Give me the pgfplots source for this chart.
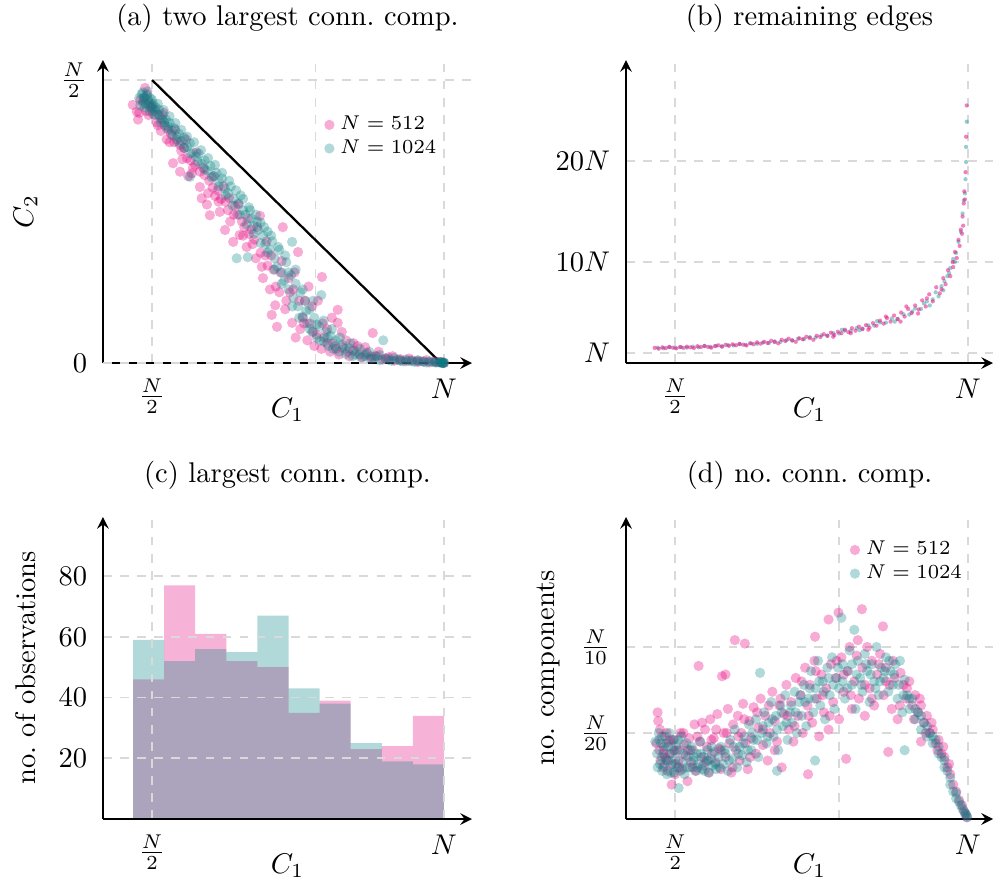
\documentclass[border=0pt]{standalone}
\usepackage{pgfplots}
\pgfplotsset{compat=1.18}
\definecolor{pinkc}{RGB}{230,0,126}
\definecolor{tealc}{RGB}{0,128,128}
\pgfplotsset{
  panel/.style={
    scale only axis,
    anchor=south west,
    axis lines=left,
    axis line style={thick},
    tick align=outside,
    major tick length=2pt,
    tick style={draw=none},
    grid=major,
    major grid style={dashed, black!15, semithick},
    xmin=0.416,
    xlabel={$C_1$},
    xlabel style={at={(axis description cs:0.5,0)}, anchor=north, yshift=-8.6pt},
    ylabel style={at={(axis description cs:-0.21,0.5)}, anchor=center},
    legend style={draw=none, fill=none, font=\scriptsize, anchor=north west, row sep=-2pt},
    legend cell align=left,
    legend image code/.code={\draw[#1] plot coordinates {(0cm,0cm)};},
  },
  pinkpts/.style={only marks, mark=*, mark size=1.8pt, color=pinkc,
    mark options={draw opacity=0, fill=pinkc, fill opacity=0.33}},
  tealpts/.style={only marks, mark=*, mark size=1.8pt, color=tealc,
    mark options={draw opacity=0, fill=tealc, fill opacity=0.3}},
  pinksmall/.style={only marks, mark=*, mark size=0.75pt, color=pinkc,
    mark options={draw opacity=0, fill=pinkc, fill opacity=0.5}},
  tealsmall/.style={only marks, mark=*, mark size=0.75pt, color=tealc,
    mark options={draw opacity=0, fill=tealc, fill opacity=0.4}},
}

\begin{document}
\begin{tikzpicture}
\useasboundingbox (0pt,0pt) rectangle (349.15pt,-308.44pt);

% (a) two largest components
\begin{axis}[panel,
  at={(36.14pt,-127.38pt)}, width=129.48pt, height=106.32pt,
  xmax=1.048, ymin=0, ymax=0.5353, clip=false,
  xtick={0.5,0.78,1}, xticklabels={$\frac{N}{2}$,,$N$},
  ytick={0,0.5}, yticklabels={$0$,$\frac{N}{2}$},
  ylabel={$C_2$},
  title={(a) two largest conn.\ comp.},
  legend style={at={(axis description cs:0.575,0.855)}},
]
\addplot[pinkpts] coordinates {
(0.467,0.456)(0.474,0.444)(0.476,0.430)(0.480,0.465)(0.484,0.458)(0.488,0.486)(0.490,0.445)(0.492,0.475)(0.495,0.460)(0.498,0.452)
(0.502,0.440)(0.505,0.448)(0.508,0.425)(0.512,0.438)(0.515,0.410)(0.518,0.430)(0.522,0.420)(0.525,0.395)(0.528,0.412)(0.532,0.405)
(0.536,0.353)(0.538,0.390)(0.542,0.395)(0.548,0.338)(0.548,0.385)(0.552,0.360)(0.555,0.380)(0.560,0.362)(0.562,0.330)(0.566,0.358)
(0.570,0.345)(0.574,0.350)(0.582,0.311)(0.582,0.338)(0.585,0.291)(0.590,0.332)(0.594,0.280)(0.598,0.322)(0.599,0.261)(0.604,0.310)
(0.608,0.295)(0.612,0.305)(0.616,0.267)(0.618,0.290)(0.625,0.235)(0.626,0.285)(0.630,0.270)(0.634,0.250)(0.639,0.214)(0.642,0.278)
(0.646,0.262)(0.650,0.226)(0.654,0.250)(0.658,0.240)(0.662,0.205)(0.666,0.228)(0.670,0.236)(0.675,0.218)(0.678,0.185)(0.685,0.260)
(0.686,0.195)(0.690,0.150)(0.694,0.190)(0.698,0.172)(0.702,0.130)(0.705,0.085)(0.708,0.165)(0.711,0.102)(0.714,0.064)(0.718,0.125)
(0.722,0.180)(0.724,0.240)(0.730,0.110)(0.734,0.150)(0.740,0.071)(0.742,0.130)(0.746,0.045)(0.750,0.196)(0.754,0.060)(0.758,0.080)
(0.762,0.110)(0.766,0.040)(0.770,0.070)(0.774,0.100)(0.778,0.030)(0.782,0.050)(0.791,0.152)(0.790,0.025)(0.795,0.045)(0.800,0.060)
(0.805,0.020)(0.810,0.035)(0.818,0.094)(0.818,0.071)(0.820,0.015)(0.826,0.028)(0.832,0.040)(0.838,0.012)(0.845,0.022)(0.852,0.030)
(0.860,0.010)(0.868,0.018)(0.876,0.008)(0.878,0.053)(0.885,0.012)(0.895,0.006)(0.905,0.010)(0.915,0.004)(0.925,0.007)(0.935,0.003)
(0.945,0.005)(0.955,0.002)(0.965,0.003)(0.975,0.001)(0.985,0.002)(0.992,0.001)(0.998,0.000)(1.000,0.000)
(0.478,0.442)(0.486,0.468)(0.494,0.438)(0.500,0.455)(0.510,0.420)(0.520,0.442)(0.530,0.390)(0.540,0.412)(0.550,0.375)(0.558,0.395)
(0.568,0.335)(0.576,0.372)(0.588,0.345)(0.596,0.300)(0.606,0.330)(0.614,0.285)(0.622,0.312)(0.632,0.292)(0.640,0.262)(0.648,0.280)
(0.656,0.225)(0.664,0.255)(0.672,0.210)(0.680,0.240)(0.688,0.170)(0.696,0.215)(0.704,0.190)(0.712,0.135)(0.720,0.160)(0.728,0.095)
(0.736,0.125)(0.744,0.160)(0.752,0.110)(0.760,0.070)(0.768,0.135)(0.776,0.055)(0.784,0.110)(0.792,0.070)(0.800,0.035)(0.808,0.080)
(0.815,0.025)(0.825,0.055)(0.835,0.020)(0.845,0.035)(0.855,0.015)(0.865,0.028)(0.875,0.012)(0.888,0.020)(0.900,0.008)(0.912,0.012)
(0.925,0.005)(0.940,0.008)(0.955,0.004)(0.970,0.005)(0.985,0.003)(0.995,0.002)
};
\addlegendentry{$N=512$}
\addplot[tealpts] coordinates {
(0.478,0.468)(0.482,0.475)(0.485,0.462)(0.487,0.470)(0.489,0.458)(0.491,0.472)(0.493,0.465)(0.495,0.455)(0.497,0.468)(0.499,0.450)
(0.502,0.458)(0.504,0.445)(0.506,0.452)(0.509,0.440)(0.512,0.448)(0.515,0.432)(0.518,0.438)(0.521,0.425)(0.524,0.430)(0.527,0.418)
(0.530,0.424)(0.534,0.410)(0.538,0.415)(0.542,0.400)(0.546,0.405)(0.550,0.392)(0.555,0.398)(0.560,0.382)(0.565,0.329)(0.565,0.388)
(0.570,0.372)(0.575,0.365)(0.580,0.370)(0.585,0.352)(0.590,0.358)(0.595,0.340)(0.600,0.348)(0.605,0.330)(0.610,0.336)(0.615,0.320)
(0.620,0.326)(0.625,0.308)(0.630,0.300)(0.635,0.312)(0.640,0.290)(0.645,0.185)(0.648,0.282)(0.652,0.296)(0.656,0.270)(0.660,0.262)
(0.664,0.187)(0.666,0.275)(0.670,0.255)(0.674,0.242)(0.678,0.262)(0.682,0.235)(0.686,0.248)(0.690,0.225)(0.694,0.210)(0.698,0.232)
(0.702,0.200)(0.706,0.215)(0.710,0.185)(0.714,0.170)(0.718,0.200)(0.722,0.160)(0.726,0.145)(0.730,0.178)(0.734,0.130)(0.738,0.155)
(0.740,0.214)(0.742,0.115)(0.746,0.140)(0.750,0.100)(0.754,0.125)(0.758,0.082)(0.762,0.110)(0.766,0.070)(0.770,0.095)(0.774,0.055)
(0.778,0.080)(0.782,0.045)(0.786,0.065)(0.790,0.120)(0.794,0.038)(0.798,0.055)(0.802,0.030)(0.806,0.048)(0.810,0.025)(0.815,0.040)
(0.820,0.020)(0.826,0.032)(0.832,0.016)(0.838,0.026)(0.844,0.012)(0.850,0.020)(0.858,0.010)(0.866,0.015)(0.874,0.007)(0.882,0.012)
(0.890,0.005)(0.896,0.040)(0.900,0.008)(0.910,0.004)(0.920,0.006)(0.930,0.003)(0.940,0.004)(0.950,0.002)(0.960,0.003)(0.970,0.001)
(0.980,0.002)(0.988,0.001)(0.994,0.001)(0.997,0.000)(1.000,0.000)(0.999,0.001)(0.998,0.000)(1.000,0.001)
(0.480,0.455)(0.484,0.478)(0.488,0.452)(0.492,0.480)(0.496,0.445)(0.500,0.465)(0.505,0.438)(0.510,0.458)(0.515,0.425)(0.520,0.447)
(0.525,0.415)(0.530,0.436)(0.535,0.402)(0.540,0.424)(0.545,0.390)(0.550,0.412)(0.555,0.380)(0.560,0.400)(0.566,0.370)(0.572,0.390)
(0.578,0.356)(0.584,0.376)(0.590,0.342)(0.596,0.362)(0.602,0.328)(0.608,0.350)(0.614,0.312)(0.620,0.336)(0.626,0.296)(0.632,0.322)
(0.638,0.278)(0.644,0.305)(0.650,0.262)(0.656,0.290)(0.662,0.245)(0.668,0.270)(0.674,0.228)(0.680,0.250)(0.686,0.212)(0.692,0.240)
(0.698,0.195)(0.704,0.225)(0.710,0.165)(0.716,0.205)(0.722,0.140)(0.728,0.190)(0.734,0.160)(0.740,0.100)(0.746,0.165)(0.752,0.080)
(0.758,0.130)(0.764,0.092)(0.770,0.060)(0.776,0.110)(0.782,0.068)(0.788,0.040)(0.794,0.075)(0.800,0.045)(0.808,0.060)(0.814,0.030)
(0.822,0.045)(0.830,0.025)(0.840,0.035)(0.848,0.015)(0.856,0.025)(0.864,0.012)(0.872,0.020)(0.880,0.008)(0.890,0.014)(0.905,0.006)
(0.915,0.009)(0.925,0.004)(0.935,0.006)(0.945,0.003)(0.955,0.005)(0.965,0.002)(0.975,0.003)(0.985,0.001)(0.992,0.002)(0.996,0.001)
};
\addlegendentry{$N=1024$}
\addplot[black, thick, forget plot] coordinates {(0.5,0.5)(0.99,0.005)};
\addplot[black!15, dashed, thick, forget plot] coordinates {(0.416,0)(1.0,0)};
\end{axis}

% (b) remaining edges
\begin{axis}[panel,
  at={(219.67pt,-127.38pt)}, width=128.78pt, height=106.32pt,
  xmax=1.043, ymin=0, ymax=30, clip=false,
  xtick={0.5,1}, xticklabels={$\frac{N}{2}$,$N$},
  ytick={1,10,20}, yticklabels={$N$,$10N$,$20N$},
  title={(b) remaining edges},
]
\addplot[tealsmall] coordinates {
(0.470,1.52)(0.480,1.46)(0.490,1.56)(0.500,1.50)(0.510,1.58)(0.520,1.52)(0.530,1.62)(0.540,1.56)(0.550,1.66)(0.560,1.60)
(0.570,1.70)(0.580,1.66)(0.590,1.78)(0.600,1.74)(0.610,1.86)(0.620,1.80)(0.630,1.94)(0.640,1.90)(0.650,2.02)(0.660,1.98)
(0.670,2.14)(0.680,2.10)(0.690,2.26)(0.700,2.22)(0.710,2.40)(0.720,2.36)(0.730,2.56)(0.740,2.52)(0.750,2.74)(0.760,2.70)
(0.770,2.96)(0.780,2.92)(0.790,3.20)(0.800,3.16)(0.810,3.46)(0.820,3.42)(0.830,3.72)(0.840,3.70)(0.850,4.02)(0.860,4.00)
(0.870,4.40)(0.880,4.36)(0.890,4.82)(0.900,4.80)(0.910,5.40)(0.920,5.36)(0.930,6.10)(0.940,6.30)(0.945,7.00)(0.950,6.60)
(0.955,7.60)(0.960,8.10)(0.965,8.60)(0.970,9.40)(0.975,10.3)(0.980,10.9)(0.984,12.0)(0.988,13.0)(0.991,14.8)(0.993,16.1)
(0.995,16.8)(0.996,18.2)(0.997,19.9)(0.997,21.4)(0.998,23.9)
(0.785,3.30)(0.815,3.25)(0.845,4.15)(0.875,4.10)(0.905,5.10)(0.925,5.90)(0.935,5.70)(0.958,7.20)(0.968,8.90)(0.978,10.0)
};
\addplot[pinksmall] coordinates {
(0.465,1.50)(0.472,1.42)(0.478,1.55)(0.484,1.48)(0.490,1.60)(0.496,1.52)(0.502,1.45)(0.508,1.58)(0.514,1.50)(0.520,1.62)
(0.526,1.55)(0.532,1.48)(0.538,1.66)(0.544,1.58)(0.550,1.70)(0.556,1.60)(0.562,1.52)(0.568,1.68)(0.574,1.75)(0.580,1.62)
(0.586,1.80)(0.592,1.70)(0.598,1.85)(0.604,1.76)(0.610,1.90)(0.616,1.82)(0.622,1.74)(0.628,1.95)(0.634,1.86)(0.640,2.05)
(0.646,1.92)(0.652,2.10)(0.658,1.98)(0.664,2.20)(0.670,2.08)(0.676,1.95)(0.682,2.30)(0.688,2.18)(0.694,2.40)(0.700,2.25)
(0.706,2.10)(0.712,2.45)(0.718,2.35)(0.724,2.60)(0.730,2.48)(0.736,2.30)(0.742,2.70)(0.748,2.58)(0.754,2.85)(0.760,2.70)
(0.766,3.00)(0.772,2.78)(0.778,3.10)(0.784,2.95)(0.790,3.30)(0.796,3.05)(0.802,3.45)(0.808,3.20)(0.814,3.60)(0.820,3.35)
(0.826,3.75)(0.832,3.50)(0.838,3.95)(0.844,3.70)(0.850,4.20)(0.856,3.90)(0.862,4.45)(0.868,4.10)(0.874,4.70)(0.880,4.35)
(0.886,5.00)(0.892,4.60)(0.898,5.35)(0.904,4.95)(0.910,5.70)(0.916,5.30)(0.922,6.20)(0.928,5.60)(0.934,6.80)(0.940,6.10)
(0.946,7.50)(0.952,6.90)(0.958,8.40)(0.962,7.80)(0.966,9.20)(0.970,8.60)(0.974,10.0)(0.978,11.0)(0.981,10.4)(0.984,12.2)
(0.986,11.6)(0.988,13.2)(0.990,12.8)(0.991,14.5)(0.992,13.6)(0.993,15.8)(0.994,17.0)(0.995,16.2)(0.996,18.9)(0.997,22.4)(0.998,25.5)
(0.770,2.60)(0.800,2.95)(0.830,3.30)(0.860,4.60)(0.885,4.10)(0.895,5.60)(0.915,4.90)(0.930,6.40)(0.955,7.30)(0.975,9.50)
};
\end{axis}

% (c) largest component histogram
\begin{axis}[panel,
  at={(36.14pt,-287.39pt)}, width=129.48pt, height=105.97pt,
  xmax=1.048, ymin=0, ymax=99.5, axis on top,
  xtick={0.5,1}, xticklabels={$\frac{N}{2}$,$N$},
  ytick={20,40,60,80},
  ylabel={no.\ of observations},
  title={(c) largest conn.\ comp.},
]
\addplot[ybar interval, fill=pinkc, fill opacity=0.3, draw=none] coordinates {
(0.4675,46)(0.5208,77)(0.5740,61)(0.6273,52)(0.6805,50)(0.7338,35)(0.7870,39)(0.8403,23)(0.8935,24)(0.9468,34)(1.0,34)
};
\addplot[ybar interval, fill=tealc, fill opacity=0.3, draw=none] coordinates {
(0.4675,59)(0.5208,52)(0.5740,56)(0.6273,55)(0.6805,67)(0.7338,43)(0.7870,38)(0.8403,25)(0.8935,19)(0.9468,18)(1.0,18)
};
\end{axis}

% (d) number of components
\begin{axis}[panel,
  at={(219.67pt,-287.39pt)}, width=128.78pt, height=105.97pt,
  xmax=1.043, ymin=0, ymax=0.1756, clip=false,
  xtick={0.5,0.78,1}, xticklabels={$\frac{N}{2}$,,$N$},
  ytick={0.05,0.1}, yticklabels={$\frac{N}{20}$,$\frac{N}{10}$},
  ylabel={no.\ components},
  title={(d) no.\ conn.\ comp.},
  legend style={at={(axis description cs:0.585,0.96)}},
]
\addplot[pinkpts] coordinates {
(0.468,0.044)(0.470,0.062)(0.471,0.057)(0.473,0.040)(0.475,0.034)(0.477,0.048)(0.479,0.030)(0.481,0.042)(0.483,0.036)(0.485,0.050)
(0.487,0.028)(0.489,0.045)(0.491,0.038)(0.494,0.020)(0.496,0.032)(0.498,0.046)(0.500,0.026)(0.503,0.040)(0.506,0.034)(0.509,0.050)
(0.512,0.029)(0.515,0.043)(0.518,0.037)(0.521,0.022)(0.524,0.047)(0.527,0.033)(0.530,0.040)(0.533,0.055)(0.536,0.028)(0.540,0.089)
(0.542,0.045)(0.545,0.036)(0.548,0.031)(0.551,0.052)(0.554,0.042)(0.557,0.027)(0.560,0.058)(0.563,0.038)(0.566,0.047)(0.569,0.033)
(0.572,0.061)(0.575,0.041)(0.578,0.029)(0.580,0.083)(0.583,0.050)(0.586,0.084)(0.586,0.036)(0.590,0.064)(0.593,0.044)(0.596,0.027)
(0.599,0.055)(0.602,0.104)(0.604,0.040)(0.607,0.060)(0.610,0.034)(0.613,0.050)(0.616,0.067)(0.619,0.102)(0.620,0.044)(0.624,0.029)
(0.627,0.057)(0.630,0.047)(0.634,0.065)(0.638,0.038)(0.642,0.053)(0.646,0.070)(0.650,0.043)(0.654,0.060)(0.658,0.034)(0.662,0.050)
(0.666,0.074)(0.670,0.057)(0.674,0.045)(0.678,0.066)(0.682,0.030)(0.686,0.061)(0.690,0.078)(0.694,0.052)(0.698,0.068)(0.702,0.045)
(0.706,0.082)(0.710,0.060)(0.714,0.072)(0.718,0.050)(0.722,0.088)(0.726,0.066)(0.727,0.026)(0.730,0.078)(0.734,0.056)(0.738,0.092)
(0.739,0.106)(0.742,0.070)(0.746,0.048)(0.750,0.084)(0.754,0.062)(0.758,0.076)(0.762,0.116)(0.762,0.052)(0.766,0.090)(0.770,0.068)
(0.774,0.082)(0.779,0.120)(0.780,0.058)(0.784,0.094)(0.788,0.074)(0.792,0.035)(0.795,0.086)(0.798,0.100)(0.802,0.064)(0.806,0.080)
(0.810,0.095)(0.814,0.070)(0.819,0.122)(0.820,0.088)(0.824,0.060)(0.828,0.100)(0.832,0.076)(0.836,0.092)(0.840,0.066)(0.845,0.084)
(0.850,0.096)(0.855,0.112)(0.856,0.072)(0.860,0.088)(0.864,0.039)(0.866,0.078)(0.870,0.064)(0.875,0.082)(0.880,0.058)(0.885,0.085)
(0.890,0.078)(0.895,0.070)(0.900,0.080)(0.905,0.066)(0.910,0.072)(0.915,0.062)(0.920,0.066)(0.920,0.045)(0.925,0.056)(0.930,0.060)
(0.935,0.050)(0.940,0.052)(0.945,0.044)(0.950,0.046)(0.955,0.038)(0.960,0.036)(0.965,0.030)(0.970,0.026)(0.975,0.020)(0.980,0.016)
(0.985,0.011)(0.990,0.008)(0.993,0.005)(0.996,0.003)(0.998,0.001)
(0.474,0.052)(0.480,0.038)(0.486,0.034)(0.492,0.046)(0.499,0.040)(0.507,0.030)(0.514,0.050)(0.522,0.040)(0.530,0.030)(0.538,0.048)
(0.546,0.056)(0.554,0.034)(0.562,0.046)(0.570,0.052)(0.578,0.040)(0.588,0.050)(0.598,0.030)(0.608,0.048)(0.618,0.058)(0.628,0.036)
(0.640,0.062)(0.650,0.052)(0.660,0.066)(0.670,0.040)(0.680,0.070)(0.692,0.060)(0.704,0.054)(0.716,0.080)(0.728,0.060)(0.740,0.086)
(0.752,0.072)(0.764,0.060)(0.776,0.092)(0.788,0.084)(0.800,0.072)(0.812,0.104)(0.824,0.078)(0.836,0.070)(0.848,0.090)(0.860,0.080)
(0.872,0.092)(0.884,0.066)(0.896,0.076)(0.908,0.058)(0.918,0.070)(0.928,0.050)(0.938,0.056)(0.948,0.040)(0.958,0.042)(0.968,0.032)
};
\addlegendentry{$N=512$}
\addplot[tealpts] coordinates {
(0.466,0.045)(0.469,0.038)(0.472,0.050)(0.474,0.032)(0.476,0.044)(0.478,0.028)(0.480,0.040)(0.482,0.048)(0.484,0.035)(0.486,0.026)
(0.488,0.042)(0.490,0.050)(0.492,0.031)(0.494,0.038)(0.496,0.046)(0.498,0.027)(0.500,0.035)(0.502,0.043)(0.504,0.030)(0.506,0.018)
(0.508,0.040)(0.510,0.048)(0.513,0.033)(0.516,0.026)(0.519,0.044)(0.522,0.036)(0.525,0.030)(0.528,0.042)(0.531,0.034)(0.534,0.028)
(0.537,0.038)(0.540,0.032)(0.543,0.045)(0.546,0.029)(0.549,0.036)(0.552,0.033)(0.555,0.040)(0.558,0.027)(0.561,0.035)(0.564,0.031)
(0.567,0.039)(0.570,0.029)(0.574,0.036)(0.578,0.042)(0.582,0.032)(0.586,0.038)(0.590,0.028)(0.594,0.046)(0.598,0.035)(0.602,0.052)
(0.606,0.030)(0.610,0.042)(0.614,0.037)(0.618,0.048)(0.622,0.033)(0.626,0.055)(0.630,0.040)(0.634,0.046)(0.638,0.058)(0.642,0.036)
(0.645,0.085)(0.648,0.050)(0.652,0.062)(0.656,0.044)(0.660,0.056)(0.664,0.068)(0.668,0.048)(0.672,0.060)(0.674,0.028)(0.676,0.040)
(0.680,0.066)(0.684,0.054)(0.688,0.072)(0.692,0.046)(0.696,0.062)(0.700,0.056)(0.704,0.074)(0.708,0.050)(0.712,0.068)(0.716,0.060)
(0.720,0.078)(0.724,0.054)(0.728,0.070)(0.732,0.086)(0.736,0.062)(0.739,0.034)(0.740,0.076)(0.744,0.092)(0.748,0.066)(0.752,0.080)
(0.756,0.058)(0.760,0.088)(0.764,0.072)(0.768,0.094)(0.772,0.064)(0.776,0.082)(0.780,0.076)(0.784,0.117)(0.786,0.090)(0.790,0.070)
(0.794,0.086)(0.798,0.098)(0.802,0.078)(0.806,0.110)(0.808,0.064)(0.812,0.092)(0.816,0.082)(0.820,0.074)(0.824,0.096)(0.828,0.086)
(0.832,0.068)(0.836,0.090)(0.840,0.080)(0.844,0.100)(0.848,0.072)(0.852,0.088)(0.856,0.082)(0.860,0.094)(0.864,0.074)(0.868,0.086)
(0.872,0.078)(0.876,0.090)(0.880,0.070)(0.884,0.092)(0.888,0.062)(0.892,0.081)(0.892,0.040)(0.896,0.072)(0.900,0.064)(0.905,0.070)
(0.910,0.058)(0.915,0.062)(0.920,0.052)(0.925,0.056)(0.930,0.048)(0.935,0.050)(0.940,0.044)(0.945,0.046)(0.950,0.038)(0.955,0.036)
(0.960,0.030)(0.965,0.028)(0.970,0.020)(0.975,0.016)(0.980,0.012)(0.985,0.010)(0.988,0.008)(0.991,0.006)(0.994,0.004)(0.996,0.003)
(0.998,0.002)(0.999,0.001)
(0.470,0.030)(0.473,0.046)(0.477,0.036)(0.481,0.031)(0.485,0.044)(0.489,0.034)(0.493,0.027)(0.497,0.040)(0.501,0.032)(0.505,0.046)
(0.509,0.028)(0.514,0.038)(0.520,0.030)(0.526,0.040)(0.532,0.036)(0.538,0.030)(0.544,0.038)(0.550,0.028)(0.556,0.034)(0.562,0.042)
(0.568,0.032)(0.576,0.030)(0.584,0.040)(0.592,0.034)(0.600,0.042)(0.608,0.038)(0.616,0.044)(0.624,0.040)(0.632,0.050)(0.640,0.046)
(0.650,0.054)(0.658,0.048)(0.666,0.058)(0.674,0.052)(0.682,0.062)(0.690,0.056)(0.698,0.066)(0.706,0.062)(0.714,0.072)(0.722,0.068)
(0.730,0.076)(0.738,0.070)(0.746,0.080)(0.754,0.074)(0.762,0.082)(0.770,0.078)(0.778,0.088)(0.786,0.080)(0.794,0.076)(0.802,0.090)
(0.810,0.084)(0.818,0.078)(0.826,0.090)(0.834,0.084)(0.842,0.076)(0.850,0.080)(0.858,0.086)(0.866,0.092)(0.874,0.084)(0.882,0.078)
(0.890,0.072)(0.900,0.070)(0.910,0.064)(0.920,0.060)(0.930,0.054)(0.940,0.048)(0.950,0.042)(0.960,0.034)(0.970,0.024)(0.980,0.015)
};
\addlegendentry{$N=1024$}
\end{axis}
\end{tikzpicture}
\end{document}
